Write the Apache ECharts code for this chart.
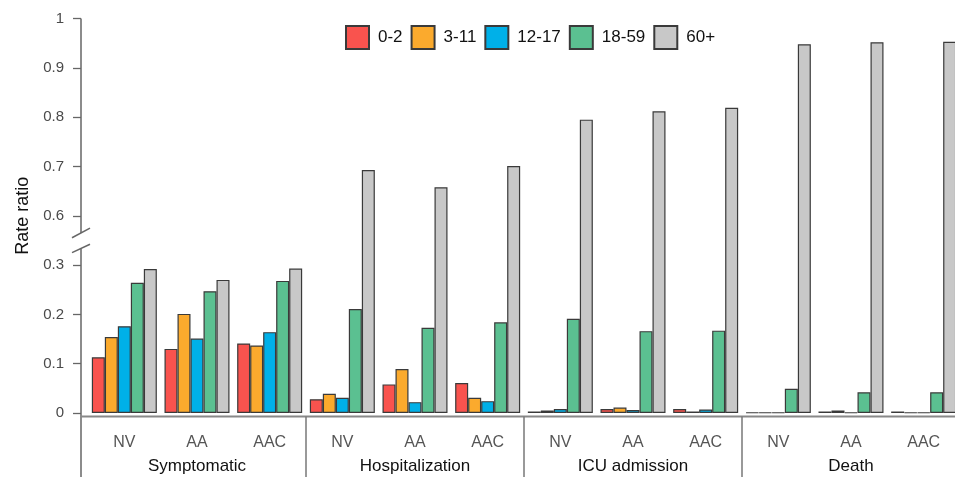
<!DOCTYPE html>
<html>
<head>
<meta charset="utf-8">
<script src="https://cdn.jsdelivr.net/npm/echarts@6/dist/echarts.min.js"></script>
<style>
  html, body { margin: 0; padding: 0; background: #fff; overflow: hidden; width: 955px; height: 477px; }
  #chart { width: 960px; height: 477px; }
</style>
</head>
<body>
<div id="chart"></div>
<script>
// ---- data ----
const groups = ['Symptomatic', 'Hospitalization', 'ICU admission', 'Death'];
const subgroups = ['NV', 'AA', 'AAC'];
const ageGroups = ['0-2', '3-11', '12-17', '18-59', '60+'];

const age0_2   = [0.113, 0.130, 0.141, 0.028, 0.058, 0.061, 0.003, 0.008, 0.008, 0.001, 0.003, 0.003];
const age3_11  = [0.154, 0.201, 0.137, 0.039, 0.089, 0.031, 0.005, 0.011, 0.003, 0.001, 0.005, 0.001];
const age12_17 = [0.176, 0.151, 0.164, 0.031, 0.022, 0.024, 0.008, 0.006, 0.007, 0.001, 0.001, 0.001];
const age18_59 = [0.264, 0.247, 0.268, 0.211, 0.173, 0.184, 0.191, 0.166, 0.167, 0.049, 0.042, 0.042];
const age60    = [0.292, 0.270, 0.293, 0.693, 0.658, 0.701, 0.795, 0.812, 0.819, 0.948, 0.952, 0.953];

const yTickLabels = ['0', '0.1', '0.2', '0.3', '0.6', '0.7', '0.8', '0.9', '1'];

// ---- broken axis transform (0.3 .. 0.6 compressed into 0.1) ----
const BREAK_LO = 0.3, BREAK_HI = 0.6;
function tf(v) {
  if (v <= BREAK_LO) return v;
  if (v >= BREAK_HI) return v - (BREAK_HI - BREAK_LO) + 0.1;
  return BREAK_LO + (v - BREAK_LO) / 3;
}

const colors = ['#F9534E', '#FBAA2D', '#00B0E8', '#5BC091', '#C8C8C8'];
const seriesData = [age0_2, age3_11, age12_17, age18_59, age60];

const xCats = [];
groups.forEach(() => subgroups.forEach(s => xCats.push(s)));

const FONT = 'Liberation Sans, Arial, sans-serif';
const chart = echarts.init(document.getElementById('chart'), null, { renderer: 'canvas' });

const option = {
  animation: false,
  backgroundColor: '#fff',
  grid: { left: 88, top: 18.6, right: 0, bottom: 64, containLabel: false },
  legend: {
    left: 345, top: 25, padding: 0,
    itemWidth: 23, itemHeight: 23, itemGap: 8,
    icon: 'rect',
    textStyle: { fontFamily: FONT, fontSize: 17, color: '#111', padding: [0, 0, 0, 4] },
    data: ageGroups
  },
  xAxis: [
    {
      type: 'category', data: xCats, position: 'bottom',
      axisLine: { show: false }, axisTick: { show: false },
      axisLabel: { margin: 22, fontFamily: FONT, fontSize: 16, color: '#555', interval: 0 }
    },
    {
      type: 'category', data: groups, position: 'bottom',
      axisLine: { show: false }, axisTick: { show: false },
      axisLabel: { margin: 45, fontFamily: FONT, fontSize: 17, color: '#111', interval: 0 }
    }
  ],
  yAxis: {
    type: 'value', min: 0, max: 0.8, interval: 0.1, offset: 7,
    name: 'Rate ratio', nameLocation: 'middle', nameRotate: 90, nameGap: 47,
    nameTextStyle: { fontFamily: FONT, fontSize: 18, color: '#111' },
    axisLine: { show: false },
    axisTick: { show: true, length: 8, lineStyle: { color: '#666', width: 1.3 } },
    splitLine: { show: false },
    axisLabel: {
      margin: 17, fontFamily: FONT, fontSize: 15, color: '#4a4a4a',
      formatter: v => yTickLabels[Math.round(v * 10)]
    }
  },
  series: ageGroups.map((name, i) => ({
    name, type: 'bar', xAxisIndex: 0, yAxisIndex: 0,
    barWidth: 13, barGap: '0%',
    itemStyle: { color: colors[i], borderColor: '#3a3a3a', borderWidth: 1.2 },
    data: seriesData[i].map(tf)
  }))
};
chart.setOption(option);

// ---- axis decorations: broken y axis line, base line, group separators ----
const W = chart.getWidth(), H = chart.getHeight();
const c0 = chart.convertToPixel({ xAxisIndex: 0 }, 0);
const c1 = chart.convertToPixel({ xAxisIndex: 0 }, 1);
const band = c1 - c0;
const gridLeft = c0 - band / 2;
const ax = gridLeft - 7;
const yTop = chart.convertToPixel({ yAxisIndex: 0 }, 0.8);
const yZero = chart.convertToPixel({ yAxisIndex: 0 }, 0);
const yBreak = chart.convertToPixel({ yAxisIndex: 0 }, 0.35);
const baseY = yZero + 3.5;
const lineStyle = { stroke: '#666', lineWidth: 1.5 };
const sepStyle = { stroke: '#777', lineWidth: 1.5 };
const g = [];
g.push({ type: 'line', shape: { x1: ax, y1: yTop, x2: ax, y2: yBreak - 7.5 }, style: lineStyle, silent: true });
g.push({ type: 'line', shape: { x1: ax, y1: yBreak + 8, x2: ax, y2: H }, style: lineStyle, silent: true });
g.push({ type: 'line', shape: { x1: ax - 9, y1: yBreak - 7.5 + 4.8, x2: ax + 9, y2: yBreak - 7.5 - 4.8 }, style: lineStyle, silent: true });
g.push({ type: 'line', shape: { x1: ax - 9, y1: yBreak + 8 + 4.2, x2: ax + 9, y2: yBreak + 8 - 4.2 }, style: lineStyle, silent: true });
g.push({ type: 'line', shape: { x1: ax, y1: baseY, x2: W, y2: baseY }, style: { stroke: '#888', lineWidth: 2 }, silent: true });
const gc0 = chart.convertToPixel({ xAxisIndex: 1 }, 0);
const gc1 = chart.convertToPixel({ xAxisIndex: 1 }, 1);
const gband = gc1 - gc0;
for (let i = 1; i < groups.length; i++) {
  const x = gc0 - gband / 2 + i * gband;
  g.push({ type: 'line', shape: { x1: x, y1: baseY, x2: x, y2: H }, style: sepStyle, silent: true });
}
chart.setOption({ graphic: g });
</script>
</body>
</html>
